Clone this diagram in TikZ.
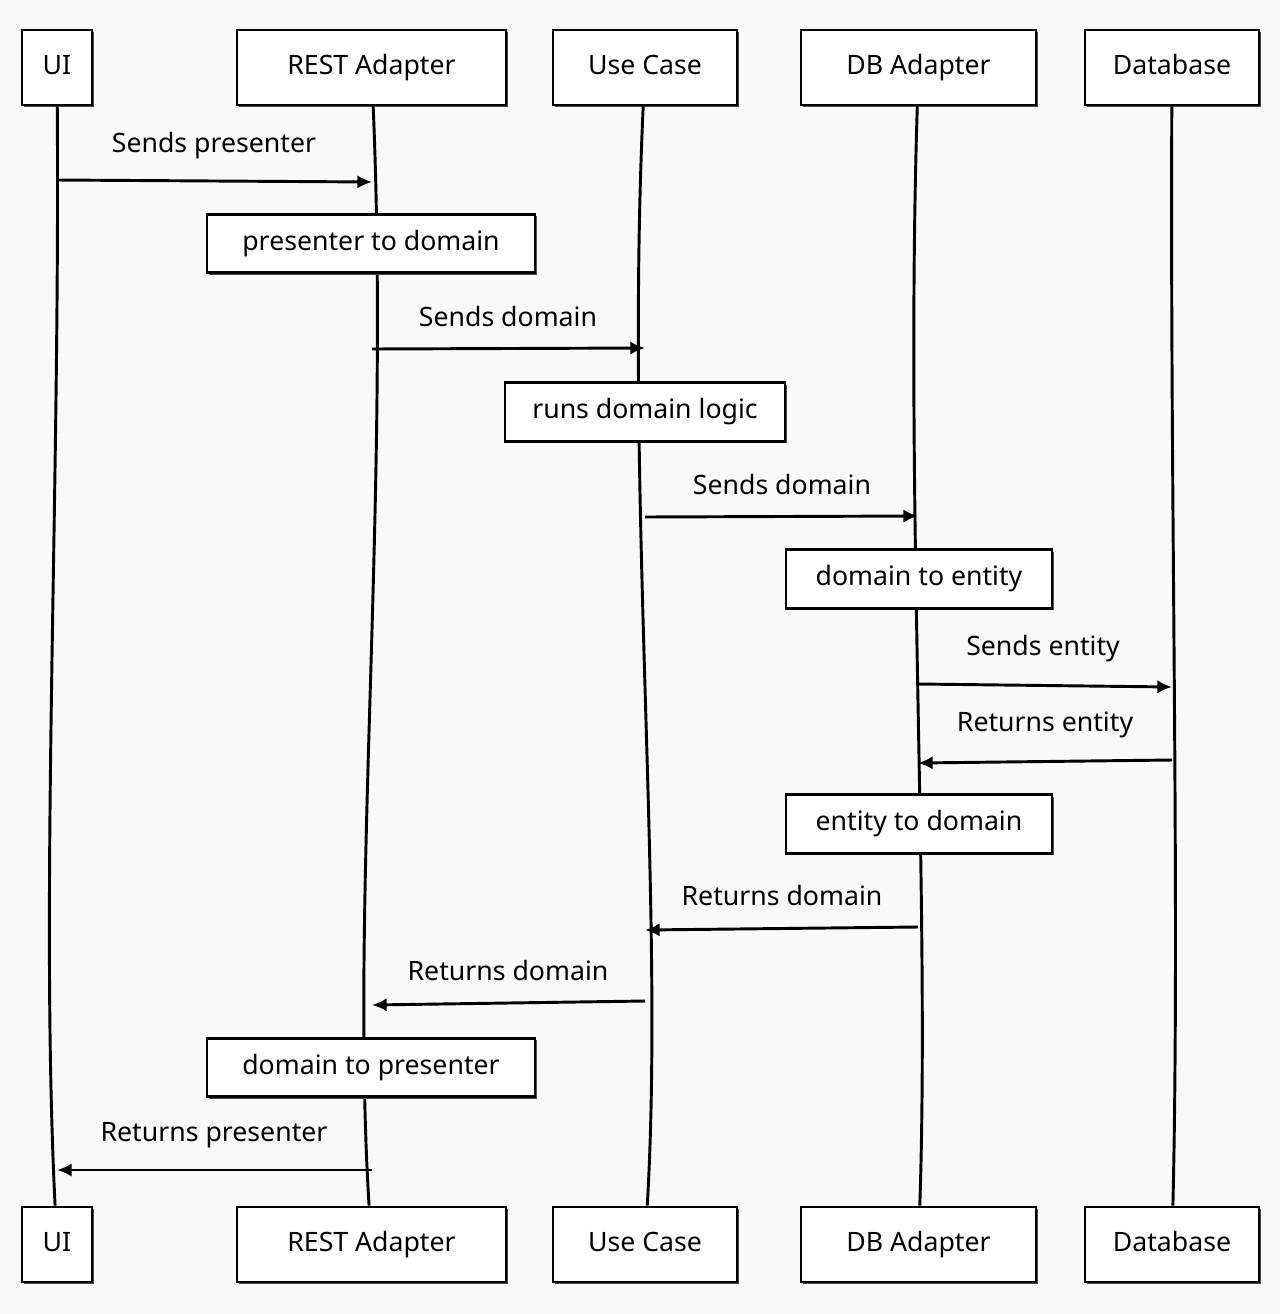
\documentclass[tikz,border=0pt]{standalone}
\usepackage{fontspec}
\setmainfont{Noto Sans}
\usetikzlibrary{arrows.meta,shadows}
\begin{document}
\begin{tikzpicture}[x=0.75pt,y=-0.75pt,
  box/.style={draw=black,line width=2.2pt,fill=white,font=\fontsize{20}{22}\selectfont,inner sep=0pt,
     text height=14pt,text depth=4pt,
     drop shadow={shadow xshift=1.5pt,shadow yshift=-1.5pt,fill=black!70,opacity=1}},
  life/.style={line width=2.2pt},
  msg/.style={line width=2.2pt,-{Latex[length=11pt,width=10pt]}},
  lbl/.style={font=\fontsize{20}{22}\selectfont,anchor=south}]
\useasboundingbox[fill={rgb,255:red,249;green,249;blue,249}] (0,0) rectangle (1280,1314);
% lifeline heads
\foreach \n/\t/\a/\b in {ui/UI/22/92, rest/REST Adapter/237/506, uc/Use Case/553/737, dba/DB Adapter/801/1036, db/Database/1085/1259}{
  \node[box,minimum width={(\b-\a)*0.75pt},minimum height=56.25pt] (\n t) at ({(\a+\b)/2},67.5) {\t};
  \node[box,minimum width={(\b-\a)*0.75pt},minimum height=56.25pt] (\n b) at ({(\a+\b)/2},1244.5) {\t};
}
\draw[life] (uit) .. controls (60,500) and (40,900) .. (uib);
\draw[life] (restt) .. controls (390,500) and (350,900) .. (restb);
\draw[life] (uct) .. controls (625,500) and (665,900) .. (ucb);
\draw[life] (dbat) .. controls (905,500) and (930,900) .. (dbab);
\draw[life] (dbt) .. controls (1170,500) and (1180,900) .. (dbb);
% activity boxes
\node[box,minimum width=246pt,minimum height=44pt] (p2d) at (371,243.5) {presenter to domain};
\node[box,minimum width=210pt,minimum height=44pt] (rdl) at (645,412) {runs domain logic};
\node[box,minimum width=199.5pt,minimum height=44pt] (d2e) at (919,579) {domain to entity};
\node[box,minimum width=199.5pt,minimum height=44pt] (e2d) at (919,824) {entity to domain};
\node[box,minimum width=246pt,minimum height=44pt] (d2p) at (371,1067.5) {domain to presenter};
% message endpoints
\coordinate (a1) at (57,180); \coordinate (b1) at (372,182);
\coordinate (a2) at (372,349); \coordinate (b2) at (645,348);
\coordinate (a3) at (645,517); \coordinate (b3) at (918,516);
\coordinate (a4) at (918,684); \coordinate (b4) at (1172,687);
\coordinate (a5) at (1172,760); \coordinate (b5) at (918,763);
\coordinate (a6) at (918,927); \coordinate (b6) at (645,930);
\coordinate (a7) at (645,1001); \coordinate (b7) at (372,1005);
\coordinate (a8) at (372,1170); \coordinate (b8) at (57,1170);
\draw[msg] (a1) -- (b1); \node[lbl] (l1) at (214,164) {Sends presenter};
\draw[msg] (a2) -- (b2); \node[lbl] (l2) at (508,331) {Sends domain};
\draw[msg] (a3) -- (b3); \node[lbl] (l3) at (782,499) {Sends domain};
\draw[msg] (a4) -- (b4); \node[lbl] (l4) at (1043,667) {Sends entity};
\draw[msg] (a5) -- (b5); \node[lbl] (l5) at (1045,743) {Returns entity};
\draw[msg] (a6) -- (b6); \node[lbl] (l6) at (782,910) {Returns domain};
\draw[msg] (a7) -- (b7); \node[lbl] (l7) at (508,985) {Returns domain};
\draw[msg] (a8) -- (b8); \node[lbl] (l8) at (214,1153) {Returns presenter};
\end{tikzpicture}
\end{document}
